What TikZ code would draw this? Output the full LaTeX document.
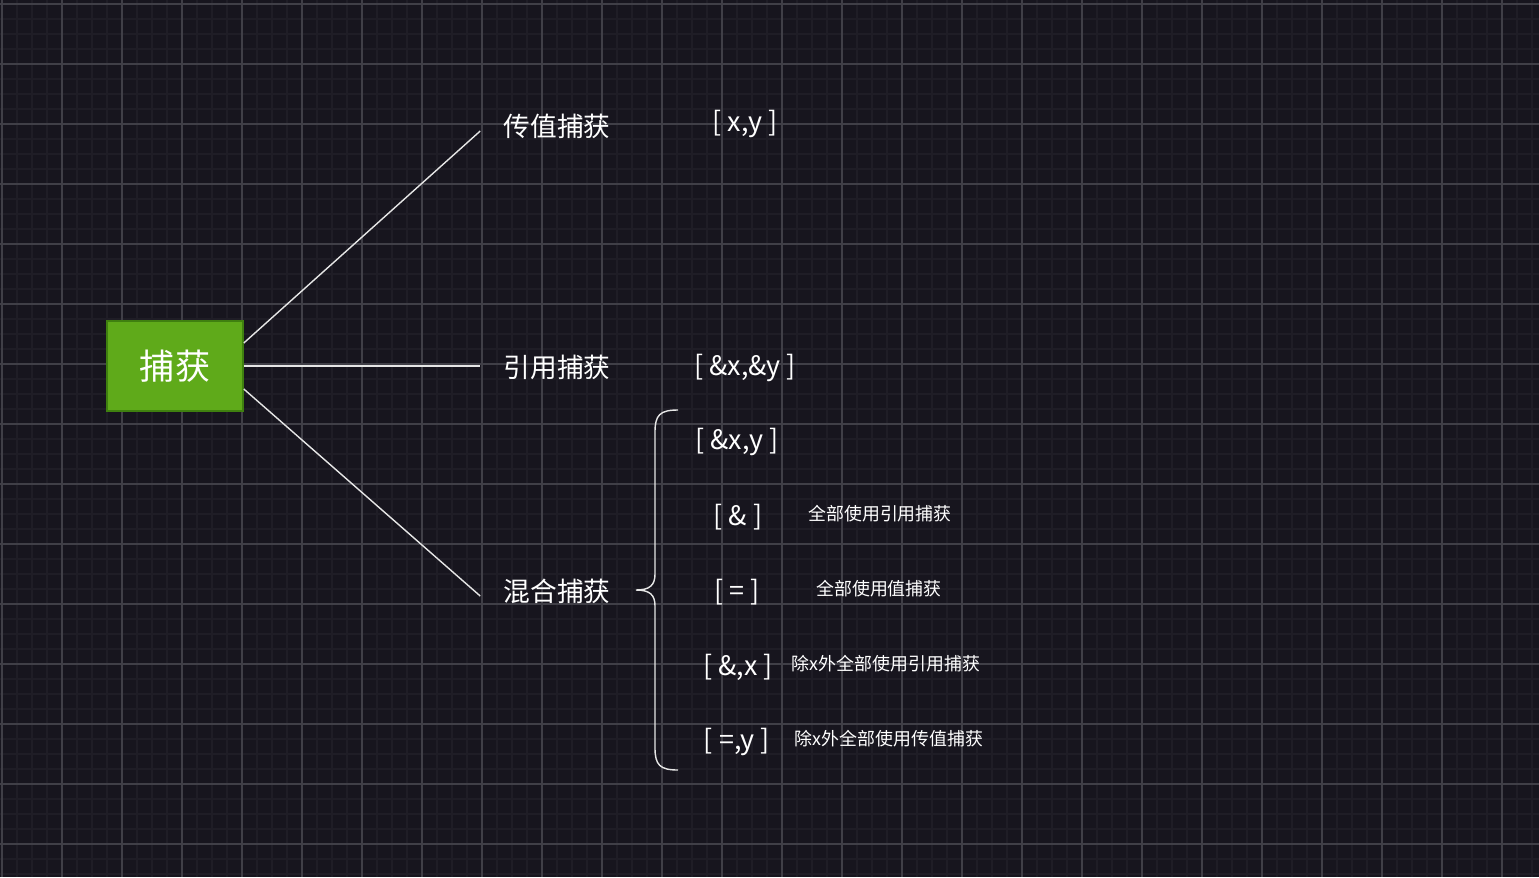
\documentclass[tikz,border=0pt]{standalone}
\usepackage{fontspec}
\setmainfont{Noto Sans CJK SC}
\usetikzlibrary{positioning}
\definecolor{bgdark}{HTML}{17151E}
\definecolor{gridminor}{HTML}{1F1D26}
\definecolor{gridmajor}{HTML}{403F47}
\definecolor{rootgreen}{HTML}{5FAA1A}
\definecolor{rootedge}{HTML}{3F800F}
\definecolor{linkgray}{HTML}{E6E6E6}
\tikzset{
    rootbox/.style={
        draw = rootedge, fill = rootgreen, line width = 0.9pt,
        minimum width = 2.72cm,
        minimum height = 1.8cm,
        text = white,
        font = \fontsize{20pt}{22pt}\selectfont
    },
    branch/.style = {text = white, inner sep = 0.46cm, font = \fontsize{15.2pt}{17pt}\selectfont},
    capt/.style = {text = white, inner sep = 1pt, font = \fontsize{15.3pt}{17pt}\selectfont},
    note/.style = {text = white, inner sep = 1pt, font = \fontsize{10.2pt}{12pt}\selectfont},
    link/.style = {draw = linkgray, line width = 0.8pt}
}

\begin{document}
\begin{tikzpicture}[x=0.02cm, y=-0.02cm]

    % Background and grid
    \fill[bgdark] (0,0) rectangle (1539,877);
    \useasboundingbox (0,0) rectangle (1539,877);
    \foreach \gx in {2,17,...,1532} \draw[gridminor, line width=1.1pt] (\gx,0) -- (\gx,877);
    \foreach \gy in {4,19,...,874} \draw[gridminor, line width=1.1pt] (0,\gy) -- (1539,\gy);
    \foreach \gx in {2,62,...,1502} \draw[gridmajor, line width=0.6pt] (\gx,0) -- (\gx,877);
    \foreach \gy in {4,64,...,844} \draw[gridmajor, line width=0.6pt] (0,\gy) -- (1539,\gy);

    % Root
    \node[rootbox] (capture) at (175,366) {捕获};

    % Branches
    \node[branch] (byval) at (557,126) {传值捕获};
    \node[branch] (byref) at (557,367) {引用捕获};
    \node[branch] (mixed) at (557,591) {混合捕获};

    \node[capt] (valxy) at (745,124) {[ x,y ]};
    \node[capt] (refxy) at (745,368) {[ \&x,\&y ]};

    % Mixed cases
    \node[capt] (mixxy) at (737,442) {[ \&x,y ]};
    \node[capt] (allref) at (738,517) {[ \& ]};
    \node[capt] (allval) at (737,592) {[ = ]};
    \node[capt] (refbut) at (738,667) {[ \&,x ]};
    \node[capt] (valbut) at (737,742) {[ =,y ]};

    \node[note] (allrefnote) at (880,514) {全部使用引用捕获};
    \node[note] (allvalnote) at (879,589) {全部使用值捕获};
    \node[note] (refbutnote) at (886,664) {除x外全部使用引用捕获};
    \node[note] (valbutnote) at (889,739) {除x外全部使用传值捕获};

    % Brace
    \coordinate (bracetop) at (678,410);
    \coordinate (bracetip) at (636,590);
    \coordinate (bracebot) at (678,770);
    \draw[link] (bracetop) .. controls (660,410) and (655,415) .. (655,432) -- (655,574)
        .. controls (655,585) and (650,590) .. (bracetip)
        .. controls (650,590) and (655,595) .. (655,606) -- (655,748)
        .. controls (655,765) and (660,770) .. (bracebot);

    % Lines
    \draw[link] ([yshift=0.46cm]capture.east) -- ([yshift=-0.1cm]byval.west);
    \draw[link] (capture.east) -- ([yshift=0.02cm]byref.west);
    \draw[link] ([yshift=-0.46cm]capture.east) -- ([yshift=-0.1cm]mixed.west);

\end{tikzpicture}
\end{document}
